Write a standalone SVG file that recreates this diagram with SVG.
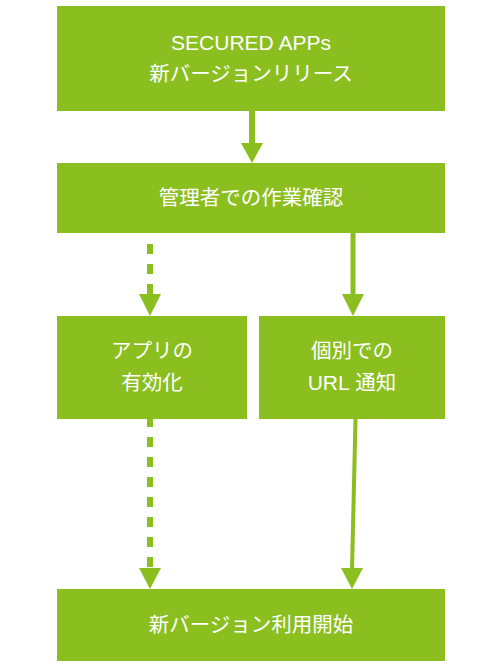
<svg xmlns="http://www.w3.org/2000/svg" width="500" height="667" viewBox="0 0 500 667">
<defs>
<style>
.box{fill:#8bbe1f}
.t{fill:#ffffff;font-family:"Liberation Sans","Noto Sans CJK JP",sans-serif;font-size:20.5px;text-anchor:middle}
.lat{font-size:21px}
.ln{stroke:#8bbe1f;stroke-width:6;fill:none}
.dash{stroke-dasharray:10 10}
.head{fill:#8bbe1f}
</style>
</defs>
<rect width="500" height="667" fill="#ffffff"/>
<g id="connectors">
<line class="ln" x1="252" y1="110" x2="252" y2="145"/>
<polygon class="head" points="241,143 263,143 252,163"/>
<line class="ln dash" x1="150" y1="244" x2="150" y2="296"/>
<polygon class="head" points="139,294 161,294 150,316"/>
<line class="ln" style="stroke-width:5" x1="353" y1="233" x2="353" y2="296"/>
<polygon class="head" points="342,294 364,294 353,316"/>
<line class="ln dash" x1="150" y1="417" x2="150" y2="570"/>
<polygon class="head" points="139,568 161,568 150,589"/>
<line class="ln" style="stroke-width:4" x1="355.5" y1="419" x2="352" y2="570"/>
<polygon class="head" points="341,568 363,568 352,589"/>
</g>
<g id="node-release">
<rect class="box" x="57" y="6" width="388" height="105"/>
<text class="t lat" x="251" y="49.5">SECURED APPs</text>
<text class="t" x="251" y="81">新バージョンリリース</text>
</g>
<g id="node-admin">
<rect class="box" x="57" y="163" width="388" height="70"/>
<text class="t" x="251" y="205">管理者での作業確認</text>
</g>
<g id="node-enable">
<rect class="box" x="57" y="316" width="190" height="103"/>
<text class="t" x="152" y="358">アプリの</text>
<text class="t" x="152" y="390">有効化</text>
</g>
<g id="node-url">
<rect class="box" x="259" y="316" width="186" height="103"/>
<text class="t" x="352" y="358">個別での</text>
<text class="t" x="352" y="390"><tspan class="lat">URL</tspan> 通知</text>
</g>
<g id="node-start">
<rect class="box" x="57" y="589" width="388" height="72"/>
<text class="t" x="251" y="632">新バージョン利用開始</text>
</g>
</svg>
